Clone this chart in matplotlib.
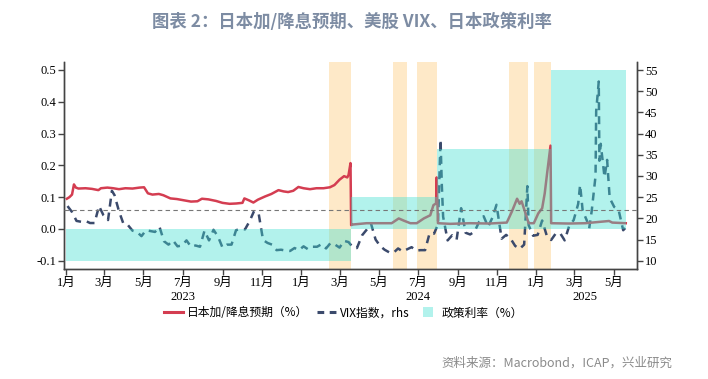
import numpy as np
import pandas as pd
import matplotlib
matplotlib.use("Agg")
import matplotlib.pyplot as plt
import matplotlib.dates as mdates
import matplotlib.transforms as mtransforms
from matplotlib.lines import Line2D

# --- 日本加/降息预期 (左轴, %) ---
red_dates = [
    "2023-01-02", "2023-01-06", "2023-01-10", "2023-01-13", "2023-01-16", "2023-01-20",
    "2023-01-31", "2023-02-10", "2023-02-20", "2023-02-24", "2023-03-06", "2023-03-15",
    "2023-03-24", "2023-04-03", "2023-04-14", "2023-04-25", "2023-05-02", "2023-05-08",
    "2023-05-15", "2023-05-25", "2023-06-01", "2023-06-12", "2023-06-22", "2023-07-03",
    "2023-07-14", "2023-07-24", "2023-07-31", "2023-08-10", "2023-08-22", "2023-09-01",
    "2023-09-12", "2023-09-22", "2023-10-02", "2023-10-05", "2023-10-12", "2023-10-19",
    "2023-10-26", "2023-11-06", "2023-11-16", "2023-11-27", "2023-12-05", "2023-12-12",
    "2023-12-20", "2023-12-28", "2024-01-05", "2024-01-15", "2024-01-25", "2024-02-05",
    "2024-02-15", "2024-02-22", "2024-03-01", "2024-03-08", "2024-03-13", "2024-03-15",
    "2024-03-18", "2024-03-19", "2024-03-22", "2024-04-12", "2024-05-21", "2024-06-01",
    "2024-06-09", "2024-06-19", "2024-06-29", "2024-07-10", "2024-07-20", "2024-07-25",
    "2024-07-29", "2024-07-30", "2024-08-01", "2024-08-20", "2024-09-20", "2024-10-20",
    "2024-11-16", "2024-11-24", "2024-12-02", "2024-12-06", "2024-12-09", "2024-12-15",
    "2024-12-20", "2024-12-28", "2025-01-04", "2025-01-10", "2025-01-14", "2025-01-18",
    "2025-01-23", "2025-01-24", "2025-02-20", "2025-03-18", "2025-04-24", "2025-04-29",
    "2025-05-20",
]
red_vals = [
    0.095, 0.100, 0.108, 0.140, 0.130, 0.127,
    0.128, 0.126, 0.122, 0.128, 0.130, 0.128,
    0.125, 0.128, 0.127, 0.130, 0.131, 0.112,
    0.108, 0.110, 0.106, 0.096, 0.094, 0.090,
    0.086, 0.087, 0.095, 0.093, 0.088, 0.082,
    0.079, 0.080, 0.082, 0.096, 0.090, 0.083,
    0.092, 0.102, 0.110, 0.122, 0.118, 0.116,
    0.120, 0.132, 0.128, 0.125, 0.128, 0.128,
    0.131, 0.138, 0.155, 0.166, 0.162, 0.170,
    0.207, 0.012, 0.014, 0.018, 0.018, 0.033,
    0.026, 0.018, 0.018, 0.033, 0.043, 0.075,
    0.080, 0.162, 0.018, 0.016, 0.018, 0.017,
    0.020, 0.055, 0.095, 0.079, 0.087, 0.050,
    0.018, 0.018, 0.049, 0.065, 0.112, 0.180,
    0.262, 0.018, 0.017, 0.018, 0.025, 0.020,
    0.018,
]

# --- VIX 指数 (右轴) ---
vix_dates = [
    "2023-01-03", "2023-01-10", "2023-01-17", "2023-01-24", "2023-01-31", "2023-02-07",
    "2023-02-14", "2023-02-21", "2023-02-28", "2023-03-07", "2023-03-13", "2023-03-17",
    "2023-03-24", "2023-03-31", "2023-04-07", "2023-04-14", "2023-04-21", "2023-04-28",
    "2023-05-05", "2023-05-12", "2023-05-19", "2023-05-26", "2023-06-02", "2023-06-09",
    "2023-06-16", "2023-06-23", "2023-06-30", "2023-07-07", "2023-07-14", "2023-07-21",
    "2023-07-28", "2023-08-04", "2023-08-11", "2023-08-18", "2023-08-25", "2023-09-01",
    "2023-09-08", "2023-09-15", "2023-09-22", "2023-09-29", "2023-10-06", "2023-10-13",
    "2023-10-20", "2023-10-27", "2023-11-03", "2023-11-10", "2023-11-17", "2023-11-24",
    "2023-12-01", "2023-12-08", "2023-12-15", "2023-12-22", "2023-12-29",
    "2024-01-05", "2024-01-12", "2024-01-19", "2024-01-26", "2024-02-02", "2024-02-09",
    "2024-02-16", "2024-02-23", "2024-03-01", "2024-03-08", "2024-03-15", "2024-03-22",
    "2024-03-28", "2024-04-05", "2024-04-12", "2024-04-19", "2024-04-26", "2024-05-03",
    "2024-05-10", "2024-05-17", "2024-05-24", "2024-05-31", "2024-06-07", "2024-06-14",
    "2024-06-21", "2024-06-28", "2024-07-05", "2024-07-12", "2024-07-19", "2024-07-26",
    "2024-08-01", "2024-08-05", "2024-08-07", "2024-08-09", "2024-08-16", "2024-08-23",
    "2024-08-30", "2024-09-06", "2024-09-13", "2024-09-20", "2024-09-27", "2024-10-04",
    "2024-10-11", "2024-10-18", "2024-10-25", "2024-10-31", "2024-11-08", "2024-11-15",
    "2024-11-22", "2024-11-29", "2024-12-06", "2024-12-13", "2024-12-18", "2024-12-20",
    "2024-12-27",
    "2025-01-03", "2025-01-10", "2025-01-17", "2025-01-24", "2025-01-31", "2025-02-07",
    "2025-02-14", "2025-02-21", "2025-02-28", "2025-03-07", "2025-03-10", "2025-03-14",
    "2025-03-21", "2025-03-24", "2025-03-28", "2025-04-03", "2025-04-04", "2025-04-08",
    "2025-04-09", "2025-04-11", "2025-04-17", "2025-04-21", "2025-04-25", "2025-05-02",
    "2025-05-09", "2025-05-16", "2025-05-21",
]
vix_vals = [
    22.9, 21.5, 19.4, 19.2, 19.4, 18.9,
    18.9, 22.9, 20.7, 19.6, 26.5, 25.5,
    21.7, 18.7, 18.4, 17.1, 16.8, 15.8,
    17.2, 17.0, 16.8, 18.0, 14.6, 13.8,
    14.8, 13.4, 13.6, 14.8, 13.3, 13.6,
    13.3, 17.1, 14.8, 17.3, 15.7, 13.1,
    13.8, 13.8, 17.2, 17.5, 17.4, 19.3,
    21.7, 21.3, 14.9, 14.2, 13.8, 12.5,
    12.6, 12.4, 12.3, 13.0, 12.5,
    13.4, 12.7, 13.3, 13.3, 13.9, 12.9,
    14.2, 13.8, 13.1, 14.7, 14.4, 13.1,
    13.0, 16.0, 17.3, 18.7, 15.0, 13.5,
    12.6, 12.0, 11.9, 12.9, 12.2, 12.7,
    13.2, 12.4, 12.5, 12.5, 16.5, 16.4,
    18.6, 38.6, 27.8, 20.4, 14.8, 16.0,
    15.0, 22.4, 16.6, 16.2, 16.9, 19.2,
    20.5, 18.0, 20.3, 23.2, 15.2, 16.1,
    15.2, 13.5, 12.8, 13.8, 27.6, 18.4,
    15.9,
    16.1, 19.5, 16.0, 14.9, 16.4, 16.5,
    14.8, 18.2, 19.6, 23.4, 27.9, 21.8,
    19.3, 17.5, 21.7, 30.0, 45.3, 52.3,
    33.6, 37.6, 29.7, 33.8, 24.8, 22.7,
    21.9, 17.2, 18.0,
]

# --- 政策利率 (%) ---
rate_dates = ["2023-01-01", "2024-03-19", "2024-07-31", "2025-01-24", "2025-05-20"]
rate_vals = [-0.1, 0.1, 0.25, 0.5, 0.5]

# --- 橙色窗口 ---
band_starts = ["2024-02-14", "2024-05-23", "2024-06-30", "2024-11-19", "2024-12-28"]
band_ends = ["2024-03-19", "2024-06-14", "2024-07-31", "2024-12-19", "2025-01-24"]

year_labels = ["2023", "2024", "2025"]
year_pos = ["2023-07-02", "2024-07-01", "2025-03-18"]

RED = "#d43d51"
NAVY = "#3b4a6c"
CYAN = "#40e0d0"
ORANGE = "#fee9c8"

num_font = ["Liberation Serif", "Noto Sans CJK SC"]
cjk_font = ["Noto Sans CJK SC", "DejaVu Sans"]

fig = plt.figure(figsize=(7.08, 3.79), dpi=100)
ax = fig.add_axes([64.3 / 708, 110 / 379, 572.4 / 708, 207 / 379])
ax2 = ax.twinx()
# 左轴(预期+利率)画在 VIX 之上
ax.set_zorder(ax2.get_zorder() + 1)
ax.patch.set_visible(False)

for s, e in zip(band_starts, band_ends):
    ax2.axvspan(pd.Timestamp(s), pd.Timestamp(e), color=ORANGE, lw=0, zorder=0)

ax2.plot(pd.to_datetime(vix_dates), vix_vals, color=NAVY, lw=1.8,
         dashes=(3.2, 2.4), zorder=2)

ax.plot(pd.to_datetime(red_dates), red_vals, color=RED, lw=1.8, zorder=2)
ax.fill_between(pd.to_datetime(rate_dates), 0, rate_vals, step="post",
                color=CYAN, alpha=0.4, lw=0, zorder=3)
ax.axhline(0.06, color="#777777", lw=0.8, dashes=(4, 3), zorder=4)

xmin, xmax = pd.Timestamp("2022-12-29"), pd.Timestamp("2025-06-06")
ax.set_xlim(xmin, xmax)
ax.set_ylim(-0.126, 0.525)
ax2.set_ylim(8.05, 56.9)
ax.set_yticks([-0.1, 0.0, 0.1, 0.2, 0.3, 0.4, 0.5])
ax.set_yticklabels(["-0.1", "0.0", "0.1", "0.2", "0.3", "0.4", "0.5"])
ax2.set_yticks(np.arange(10, 56, 5))

ax.xaxis.set_major_locator(mdates.MonthLocator(bymonth=[1, 3, 5, 7, 9, 11]))
ax.xaxis.set_major_formatter(plt.FuncFormatter(
    lambda v, p: f"{mdates.num2date(v).month}月"))

for a in (ax, ax2):
    a.spines["top"].set_visible(False)
    for sp in a.spines.values():
        sp.set_color("#444444")
        sp.set_linewidth(1.0)
    a.tick_params(axis="both", direction="out", length=4, width=1,
                  color="#444444", labelsize=9, pad=2)
for lab in ax.get_xticklabels() + ax.get_yticklabels() + ax2.get_yticklabels():
    lab.set_fontfamily(num_font)

trans = mtransforms.blended_transform_factory(ax.transData, ax.transAxes)
for lbl, pos in zip(year_labels, year_pos):
    ax.text(pd.Timestamp(pos), -0.135, lbl, transform=trans, ha="center", va="center",
            fontsize=9, family=num_font)

handles = [
    Line2D([], [], color=RED, lw=2.2),
    Line2D([], [], color=NAVY, lw=2.2, dashes=(2.2, 1.8)),
    Line2D([], [], marker="s", ls="none", markersize=7, markeredgewidth=0,
           markerfacecolor=CYAN, alpha=0.4),
]
labels = ["日本加/降息预期（%）", "VIX指数，rhs", "政策利率（%）"]
fig.legend(handles, labels, loc="center", bbox_to_anchor=(343.5 / 708, 1 - 313 / 379),
           ncol=3, frameon=False, handlelength=1.6, handletextpad=0.3,
           columnspacing=0.8, prop={"family": cjk_font, "size": 8.5})

fig.text(352 / 708, 1 - 22 / 379, "图表 2：日本加/降息预期、美股 VIX、日本政策利率",
         ha="center", va="center", fontsize=12.5, fontweight="bold",
         color="#7d8ca3", family=cjk_font)
fig.text(672 / 708, 1 - 363 / 379, "资料来源：Macrobond，ICAP，兴业研究",
         ha="right", va="center", fontsize=9, color="#8a8a8a", family=cjk_font)

fig.savefig("out.png", dpi=100)
